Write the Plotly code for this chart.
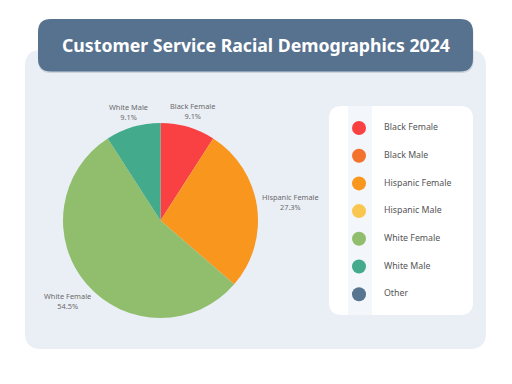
import math
import plotly.graph_objects as go

# ---- data ----
categories = ["Black Female", "Black Male", "Hispanic Female", "Hispanic Male",
              "White Female", "White Male", "Other"]
values = [1, 0, 3, 0, 6, 1, 0]
colors = ["#F94144", "#F3722C", "#F8961E", "#F9C74F", "#90BE6D", "#43AA8B", "#577590"]
title_text = "Customer Service Racial Demographics 2024"

W, H = 512, 384


def rrect(x0, y0, x1, y1, r):
    return (f"M{x0+r},{y0} L{x1-r},{y0} Q{x1},{y0} {x1},{y0+r} "
            f"L{x1},{y1-r} Q{x1},{y1} {x1-r},{y1} L{x0+r},{y1} "
            f"Q{x0},{y1} {x0},{y1-r} L{x0},{y0+r} Q{x0},{y0} {x0+r},{y0} Z")


fig = go.Figure()

# pie placement (pixels)
cx, cy, R = 160.5, 220.5, 97.5
fig.add_trace(go.Pie(
    labels=categories,
    values=values,
    sort=False,
    direction="clockwise",
    rotation=0,
    marker=dict(colors=colors, line=dict(width=0)),
    textinfo="none",
    domain=dict(x=[(cx - R) / W, (cx + R) / W],
                y=[1 - (cy + R) / H, 1 - (cy - R) / H]),
    showlegend=False,
    hoverinfo="label+percent",
))

# outside slice labels, placed along each slice's mid-angle
total = sum(values)
label_font = dict(family="Noto Sans", size=7.4, color="#6A6A6A")
annotations = []
cum = 0
for lab, v in zip(categories, values):
    if v > 0:
        theta = 2 * math.pi * (cum + v / 2) / total
        s, c = math.sin(theta), math.cos(theta)
        hw = len(lab) * 3.7 / 2
        d = R + 5.5 + hw * abs(s) + 5.5 * abs(c)
        annotations.append(dict(
            text=f"{lab}<br>{v / total * 100:.1f}%",
            x=cx + d * s, y=cy - d * c, xref="x", yref="y",
            showarrow=False, xanchor="center", yanchor="middle",
            align="center", font=label_font,
        ))
    cum += v

# legend (custom, circles)
leg_x_marker = 359
leg_x_text = 384
leg_y0 = 128
leg_step = 27.7
leg_y = [leg_y0 + i * leg_step for i in range(len(categories))]
fig.add_trace(go.Scatter(
    x=[leg_x_marker] * len(categories), y=leg_y, mode="markers",
    marker=dict(size=14, color=colors, line=dict(width=0)),
    hoverinfo="skip", showlegend=False, cliponaxis=False,
))
fig.add_trace(go.Scatter(
    x=[leg_x_text] * len(categories), y=leg_y, mode="text",
    text=categories, textposition="middle right",
    textfont=dict(family="Noto Sans", size=8.8, color="#555555"),
    hoverinfo="skip", showlegend=False, cliponaxis=False,
))

shapes = [
    # background panel
    dict(type="path", path=rrect(25, 50, 486, 349, 16), xref="x", yref="y",
         fillcolor="#EAEFF6", line=dict(width=0), layer="below"),
    # title shadow
    dict(type="path", path=rrect(38, 20.5, 473.5, 73, 13), xref="x", yref="y",
         fillcolor="rgba(60,80,100,0.18)", line=dict(width=0), layer="below"),
    # title box
    dict(type="path", path=rrect(38, 19, 473, 71.5, 13), xref="x", yref="y",
         fillcolor="#57728F", line=dict(width=0), layer="below"),
    # legend box
    dict(type="path", path=rrect(329, 106, 473, 315, 13), xref="x", yref="y",
         fillcolor="#FFFFFF", line=dict(width=0), layer="below"),
    # legend strip
    dict(type="rect", x0=348, x1=372, y0=106, y1=315, xref="x", yref="y",
         fillcolor="#F3F6FA", line=dict(width=0), layer="below"),
]

annotations.append(dict(
    text=f"<b>{title_text}</b>", x=255.5, y=44.5, xref="x", yref="y",
    showarrow=False, xanchor="center", yanchor="middle",
    font=dict(family="Noto Sans", size=17.7, color="#FFFFFF"),
))

fig.update_layout(
    width=W, height=H,
    margin=dict(l=0, r=0, t=0, b=0),
    paper_bgcolor="#FFFFFF",
    plot_bgcolor="rgba(0,0,0,0)",
    xaxis=dict(range=[0, W], visible=False, fixedrange=True, domain=[0, 1]),
    yaxis=dict(range=[H, 0], visible=False, fixedrange=True, domain=[0, 1]),
    shapes=shapes,
    annotations=annotations,
)

fig.write_html(
    "out.html",
    config={"displayModeBar": False},
    post_script="document.body.style.margin='0';document.body.style.overflow='hidden';",
)
